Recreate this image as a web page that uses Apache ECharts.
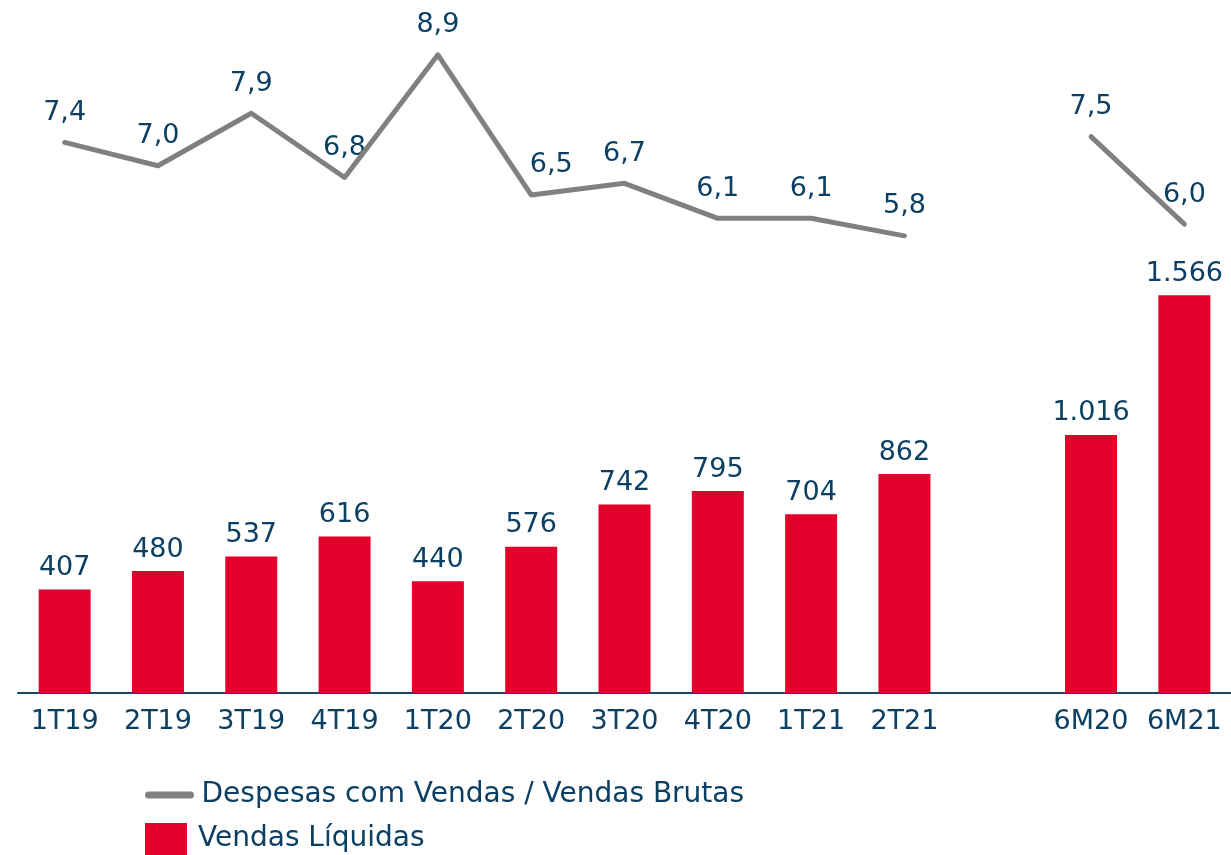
<!DOCTYPE html>
<html>
<head>
<meta charset="utf-8">
<script src="https://cdn.jsdelivr.net/npm/echarts@6/dist/echarts.min.js"></script>
<style>
  html, body { margin: 0; padding: 0; background: #fff; }
  #chart { width: 1231px; height: 855px; }
</style>
</head>
<body>
<div id="chart"></div>
<script>
// periodos (slot vazio entre 2T21 e 6M20)
var categories = ['1T19', '2T19', '3T19', '4T19', '1T20', '2T20', '3T20', '4T20', '1T21', '2T21', '', '6M20', '6M21']
var vendasLiquidas = [407, 480, 537, 616, 440, 576, 742, 795, 704, 862, null, 1016, 1566]
var despesasPct = [7.4, 7.0, 7.9, 6.8, 8.9, 6.5, 6.7, 6.1, 6.1, 5.8, null, 7.5, 6.0]

var textColor = '#0b3f63'
var fontFamily = 'DejaVu Sans'
var nomeLinha = 'Despesas com Vendas / Vendas Brutas'
var nomeBarra = 'Vendas Líquidas'

function fmtMil (v) {
  return String(v).replace(/\B(?=(\d{3})+(?!\d))/g, '.')
}
function fmtPct (v) {
  return v.toFixed(1).replace('.', ',')
}

// rotulo do 2T20 fica um pouco a direita no original
var rotulosLinha = despesasPct.map(function (v, i) {
  if (i === 5) return { value: v, label: { offset: [20, 0] } }
  return v
})

var legendText = { fontSize: 28, color: textColor, fontFamily: fontFamily, padding: [0, 0, 0, 6] }

var chart = echarts.init(document.getElementById('chart'))
var option = {
  animation: false,
  textStyle: { fontFamily: fontFamily, color: textColor },
  grid: { left: 18, right: 0, top: 35, bottom: 162, containLabel: false },
  legend: [
    {
      left: 145,
      top: 781,
      padding: 0,
      itemWidth: 42,
      itemHeight: 26,
      data: [{ name: nomeLinha, itemStyle: { opacity: 0 }, lineStyle: { width: 7, cap: 'round', color: '#808080' } }],
      textStyle: legendText
    },
    {
      left: 145,
      top: 823,
      padding: 0,
      itemWidth: 42,
      itemHeight: 32,
      data: [{ name: nomeBarra, icon: 'rect' }],
      textStyle: { fontSize: 28, color: textColor, fontFamily: fontFamily, padding: [5, 0, 0, 6] }
    }
  ],
  xAxis: {
    type: 'category',
    data: categories,
    axisTick: { show: false },
    axisLine: { lineStyle: { color: '#1c4466', width: 2 } },
    axisLabel: { color: textColor, fontSize: 27, margin: 15, fontFamily: fontFamily, interval: 0 }
  },
  yAxis: [
    { type: 'value', min: 0, max: 2590, show: false, splitLine: { show: false } },
    { type: 'value', min: -2.03, max: 9.24, show: false, splitLine: { show: false } }
  ],
  series: [
    {
      name: nomeBarra,
      type: 'bar',
      yAxisIndex: 0,
      barWidth: 52,
      itemStyle: { color: '#e4002b' },
      label: {
        show: true,
        position: 'top',
        distance: 8,
        color: textColor,
        fontSize: 27,
        fontFamily: fontFamily,
        formatter: function (p) { return fmtMil(p.value) }
      },
      data: vendasLiquidas
    },
    {
      name: nomeLinha,
      type: 'line',
      yAxisIndex: 1,
      symbol: 'none',
      connectNulls: false,
      lineStyle: { color: '#808080', width: 5, cap: 'round', join: 'round' },
      itemStyle: { color: '#808080' },
      data: despesasPct
    },
    {
      // rotulos da linha
      name: 'rotulos',
      type: 'scatter',
      yAxisIndex: 1,
      symbolSize: 0,
      silent: true,
      itemStyle: { opacity: 1, color: '#808080' },
      label: {
        show: true,
        position: 'top',
        distance: 16,
        color: textColor,
        opacity: 1,
        fontSize: 27,
        fontFamily: fontFamily,
        formatter: function (p) { return fmtPct(p.value) }
      },
      data: rotulosLinha
    }
  ]
}
chart.setOption(option)
</script>
</body>
</html>
